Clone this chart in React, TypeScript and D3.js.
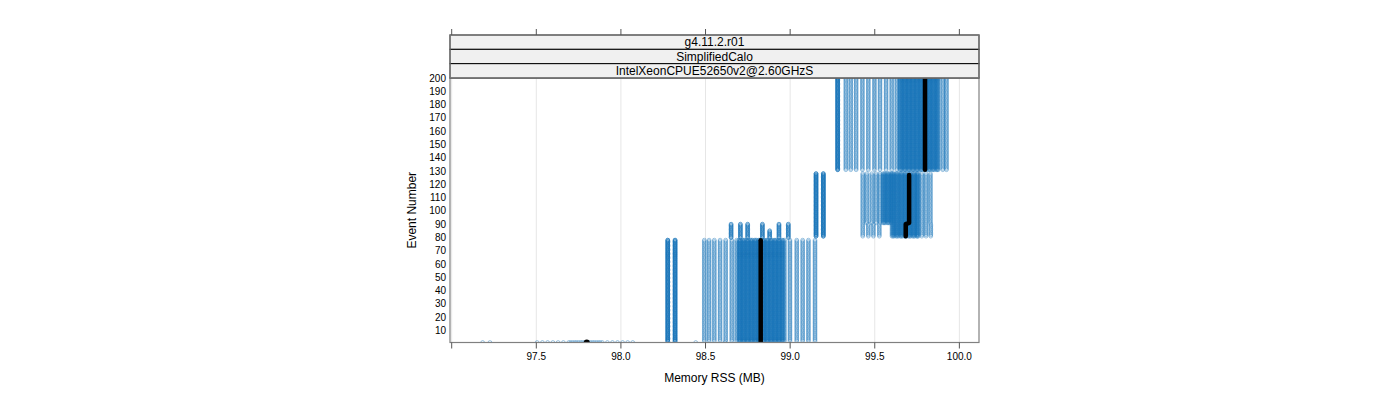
import React, { useEffect, useRef } from 'react';
import * as d3 from 'd3';

// ---- axis / strip text ----
const xTickValues = [97.0, 97.5, 98.0, 98.5, 99.0, 99.5, 100.0];
const xTickLabels = ['', '97.5', '98.0', '98.5', '99.0', '99.5', '100.0'];
const yTickValues = [10, 20, 30, 40, 50, 60, 70, 80, 90, 100, 110, 120, 130, 140, 150, 160, 170, 180, 190, 200];
const stripLabels = ['g4.11.2.r01', 'SimplifiedCalo', 'IntelXeonCPUE52650v2@2.60GHzS'];
const xTitle = 'Memory RSS (MB)';
const yTitle = 'Event Number';

// ---- memory readings (MB) per run, grouped by the event range they cover ----
// (repeated values = several runs with the same reading)
// event 1
const memEvent1 = [
  97.183, 97.226,
  97.505, 97.536, 97.567, 97.598, 97.629, 97.660,
  97.692, 97.703, 97.715, 97.727, 97.738, 97.750, 97.762, 97.773, 97.785, 97.797,
  97.808, 97.820, 97.832, 97.843, 97.855, 97.867, 97.878, 97.890,
  97.920, 97.950, 97.980, 98.010, 98.040, 98.070,
  98.442, 98.615,
];
// events 2 - 78
const memEvents2to78 = [
  98.277, 98.277, 98.277, 98.320, 98.320, 98.320,
  98.493, 98.521, 98.552, 98.586, 98.619, 98.655, 98.684,
  98.697, 98.708, 98.719, 98.731, 98.742, 98.754, 98.766, 98.777, 98.789, 98.801,
  98.812, 98.824, 98.836, 98.847, 98.859, 98.870, 98.882, 98.894, 98.905, 98.917,
  98.929, 98.940, 98.952, 98.966,
  98.703, 98.725, 98.748, 98.771, 98.795, 98.818, 98.842, 98.865, 98.888, 98.911, 98.934, 98.958,
  98.999, 99.039, 99.074, 99.108, 99.147,
];
// events 80 - 90 (runs that grow later)
const memEvents80to90 = [
  98.651, 98.651, 98.706, 98.706, 98.749, 98.749,
  98.836, 98.836, 98.934, 98.934, 98.989, 98.989,
];
// events 80 - 85
const memEvents80to85 = [98.879, 98.879];
// events 81 - 128 (low-memory runs)
const memEvents81to128 = [99.153, 99.153, 99.153, 99.196, 99.196, 99.196];
// events 81 - 90
const memEvents81to90 = [
  99.429, 99.462, 99.492, 99.527,
  99.602, 99.614, 99.626, 99.639, 99.651, 99.663, 99.676, 99.688, 99.700, 99.712,
  99.724, 99.736, 99.748, 99.757,
  99.608, 99.632, 99.657, 99.681, 99.706, 99.730, 99.752,
  99.778, 99.803, 99.831,
];
// events 91 - 128
const memEvents91to128 = [
  99.429, 99.453, 99.482, 99.508, 99.531,
  99.549, 99.561, 99.573, 99.586, 99.597,
  99.602, 99.614, 99.626, 99.639, 99.651, 99.663, 99.676, 99.688, 99.700, 99.712,
  99.724, 99.736, 99.748, 99.757,
  99.555, 99.580, 99.608, 99.632, 99.657, 99.681, 99.706, 99.730, 99.752,
  99.778, 99.803, 99.829,
];
// events 131 - 200
const memEvents131to200 = [
  99.281, 99.281, 99.281,
  99.329, 99.358, 99.390, 99.427, 99.462, 99.498, 99.531, 99.567, 99.600, 99.630,
  99.648, 99.660, 99.672, 99.684, 99.696, 99.708, 99.720, 99.732, 99.744, 99.756,
  99.768, 99.780, 99.792, 99.804, 99.816, 99.828, 99.840, 99.852, 99.864, 99.875,
  99.654, 99.678, 99.702, 99.726, 99.750, 99.774, 99.798, 99.822, 99.846, 99.870,
  99.902, 99.924,
];

const blockFirstEvent = [1, 2, 80, 80, 81, 81, 91, 131];
const blockLastEvent = [1, 78, 90, 85, 128, 90, 128, 200];
const blockMemory = [
  memEvent1, memEvents2to78, memEvents80to90, memEvents80to85,
  memEvents81to128, memEvents81to90, memEvents91to128, memEvents131to200,
];

// median trace
const medianFirstEvent = [1, 2, 81, 91, 131];
const medianLastEvent = [1, 78, 90, 127, 200];
const medianMemory = [97.798, 98.826, 99.683, 99.703, 99.797];
const medianGroup = [0, 1, 2, 2, 3];

const W = 1400;
const H = 400;
const panel = { left: 450, right: 979, top: 78, bottom: 342.5 };
const stripTop = 35;
const stripH = (panel.top - stripTop) / 3;
const FONT = '"Liberation Sans", Arial, Helvetica, sans-serif';

export default function App() {
  const ref = useRef<SVGSVGElement | null>(null);

  useEffect(() => {
    const svg = d3.select(ref.current);
    svg.selectAll('*').remove();

    const x = d3.scaleLinear().domain([96.99, 100.116]).range([panel.left, panel.right]);
    const y = d3.scaleLinear().domain([1, 200]).range([panel.bottom, panel.top]);

    svg.append('defs').append('clipPath').attr('id', 'pclip')
      .append('rect')
      .attr('x', panel.left).attr('y', panel.top)
      .attr('width', panel.right - panel.left).attr('height', panel.bottom - panel.top);

    // grid
    svg.append('g').selectAll('line').data(xTickValues).join('line')
      .attr('x1', (d) => x(d)).attr('x2', (d) => x(d))
      .attr('y1', panel.top).attr('y2', panel.bottom)
      .attr('stroke', '#e6e6e6').attr('stroke-width', 1);

    // points
    const pts: { m: number; e: number }[] = [];
    blockMemory.forEach((arr, i) => {
      for (const m of arr) {
        for (let e = blockFirstEvent[i]; e <= blockLastEvent[i]; e++) pts.push({ m, e });
      }
    });
    const gData = svg.append('g').attr('clip-path', 'url(#pclip)');
    gData.append('g')
      .attr('fill', 'none').attr('stroke', '#1874b8').attr('stroke-opacity', 0.5).attr('stroke-width', 0.85)
      .selectAll('circle').data(pts).join('circle')
      .attr('cx', (d) => x(d.m)).attr('cy', (d) => y(d.e)).attr('r', 1.9);

    // median
    const groups = d3.groups(medianGroup.map((g, i) => ({ g, i })), (d) => d.g);
    const line = d3.line<[number, number]>().x((d) => x(d[0])).y((d) => y(d[1]));
    for (const [, items] of groups) {
      const coords: [number, number][] = [];
      for (const { i } of items) {
        coords.push([medianMemory[i], medianFirstEvent[i]]);
        coords.push([medianMemory[i], medianLastEvent[i]]);
      }
      if (items.length === 1 && medianFirstEvent[items[0].i] === medianLastEvent[items[0].i]) {
        gData.append('circle').attr('cx', x(coords[0][0])).attr('cy', y(coords[0][1]))
          .attr('r', 3).attr('fill', '#000');
      } else {
        gData.append('path').attr('d', line(coords))
          .attr('fill', 'none').attr('stroke', '#000').attr('stroke-width', 4.5)
          .attr('stroke-linecap', 'round').attr('stroke-linejoin', 'round');
      }
    }

    // panel border
    svg.append('rect')
      .attr('x', panel.left).attr('y', panel.top)
      .attr('width', panel.right - panel.left).attr('height', panel.bottom - panel.top)
      .attr('fill', 'none').attr('stroke', '#808080').attr('stroke-width', 1.2);

    // strips
    stripLabels.forEach((lab, i) => {
      const y0 = stripTop + i * stripH;
      svg.append('rect').attr('x', panel.left).attr('y', y0)
        .attr('width', panel.right - panel.left).attr('height', stripH)
        .attr('fill', '#f0f0f0').attr('stroke', '#000').attr('stroke-width', 1);
      svg.append('text').attr('x', (panel.left + panel.right) / 2).attr('y', y0 + stripH / 2 + 4.3)
        .attr('text-anchor', 'middle').attr('font-family', FONT).attr('font-size', 12)
        .attr('fill', '#000').text(lab);
    });
    svg.append('rect').attr('x', panel.left).attr('y', stripTop)
      .attr('width', panel.right - panel.left).attr('height', panel.top - stripTop)
      .attr('fill', 'none').attr('stroke', '#808080').attr('stroke-width', 1.2);

    // x ticks bottom and top
    const tg = svg.append('g').attr('stroke', '#555').attr('stroke-width', 1);
    xTickValues.forEach((v) => {
      tg.append('line').attr('x1', x(v)).attr('x2', x(v)).attr('y1', panel.bottom).attr('y2', panel.bottom + 6);
      tg.append('line').attr('x1', x(v)).attr('x2', x(v)).attr('y1', stripTop).attr('y2', stripTop - 6);
    });
    svg.append('g').selectAll('text').data(xTickValues).join('text')
      .attr('x', (d) => x(d)).attr('y', panel.bottom + 17)
      .attr('text-anchor', 'middle').attr('font-family', FONT).attr('font-size', 10)
      .text((d, i) => xTickLabels[i]);

    // y labels
    svg.append('g').selectAll('text').data(yTickValues).join('text')
      .attr('x', panel.left - 4).attr('y', (d) => y(d) + 3.5)
      .attr('text-anchor', 'end').attr('font-family', FONT).attr('font-size', 10)
      .text((d) => String(d));

    // titles
    svg.append('text').attr('x', (panel.left + panel.right) / 2).attr('y', 382)
      .attr('text-anchor', 'middle').attr('font-family', FONT).attr('font-size', 12).text(xTitle);
    svg.append('text').attr('transform', `translate(416,${(panel.top + panel.bottom) / 2}) rotate(-90)`)
      .attr('text-anchor', 'middle').attr('font-family', FONT).attr('font-size', 12).text(yTitle);
  }, []);

  return (
    <svg ref={ref} width={W} height={H} style={{ position: 'absolute', left: 0, top: 0, background: '#fff' }} />
  );
}
